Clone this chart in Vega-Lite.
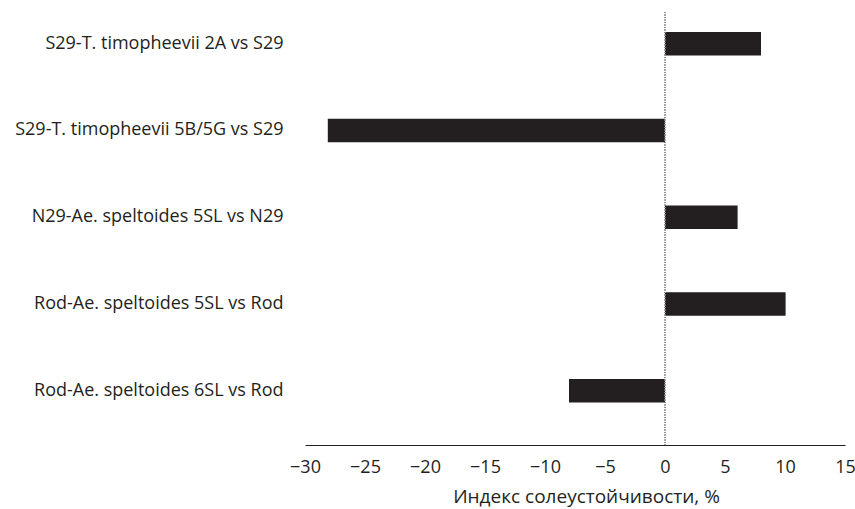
{
  "$schema": "https://vega.github.io/schema/vega-lite/v6.json",
  "width": 540,
  "height": 433,
  "autosize": "none",
  "padding": {"left": 305, "top": 12, "right": 10, "bottom": 64},
  "background": "white",
  "config": {"view": {"stroke": null}, "font": "Open Sans"},
  "data": {
    "values": [
      {"label": "S29-T. timopheevii 2A vs S29", "value": 8.0},
      {"label": "S29-T. timopheevii 5B/5G vs S29", "value": -28.1},
      {"label": "N29-Ae. speltoides 5SL vs N29", "value": 6.05},
      {"label": "Rod-Ae. speltoides 5SL vs Rod", "value": 10.05},
      {"label": "Rod-Ae. speltoides 6SL vs Rod", "value": -8.0}
    ]
  },
  "layer": [
    {
      "mark": {"type": "bar", "color": "#231f20"},
      "encoding": {
        "y": {
          "field": "label",
          "type": "nominal",
          "sort": null,
          "scale": {"paddingInner": 0.73, "paddingOuter": 0.36, "align": 0.32},
          "axis": {
            "domain": false,
            "ticks": false,
            "title": null,
            "labelFontSize": 18,
            "labelPadding": 22,
            "labelColor": "#231f20",
            "labelLimit": 400
          }
        },
        "x": {
          "field": "value",
          "type": "quantitative",
          "scale": {"domain": [-30, 15], "nice": false},
          "axis": {
            "values": [-30, -25, -20, -15, -10, -5, 0, 5, 10, 15],
            "grid": false,
            "ticks": false,
            "labelFlush": false,
            "labelOverlap": false,
            "domainColor": "#231f20",
            "labelFontSize": 18,
            "labelPadding": 13,
            "labelColor": "#231f20",
            "title": "Индекс солеустойчивости, %",
            "titleFontSize": 19,
            "titleFontWeight": "normal",
            "titleColor": "#231f20",
            "titlePadding": 11,
            "titleX": 281
          }
        }
      }
    },
    {
      "mark": {"type": "rule", "color": "#8a8a8a", "strokeDash": [1, 1.5], "strokeWidth": 1},
      "encoding": {"x": {"datum": 0}}
    }
  ]
}
